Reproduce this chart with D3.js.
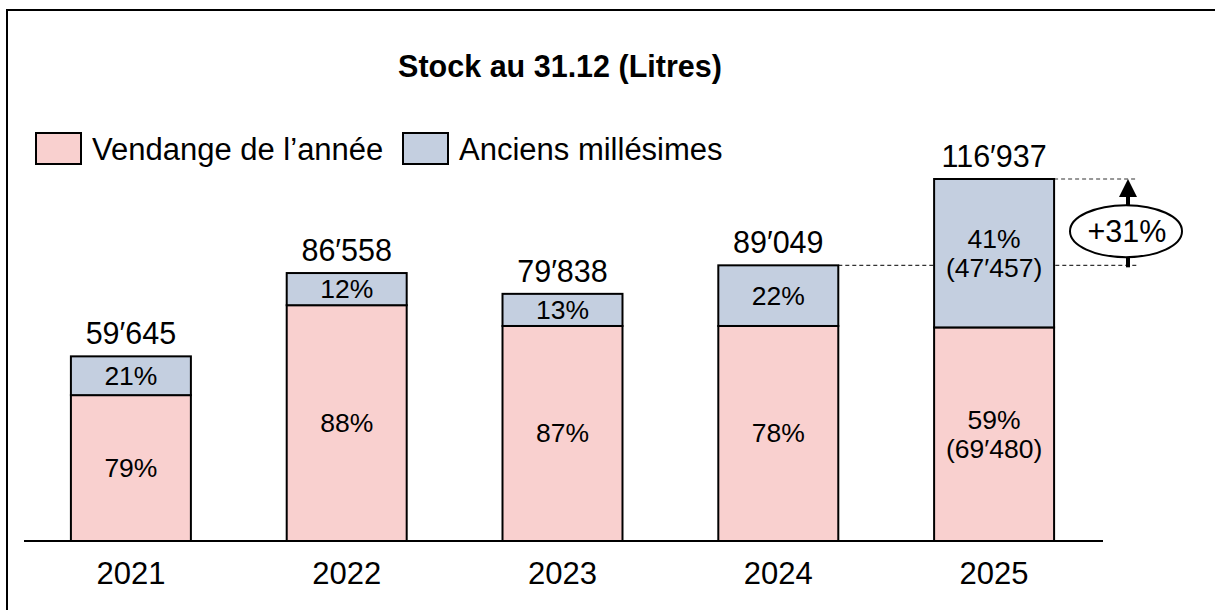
<!DOCTYPE html>
<html>
<head>
<meta charset="utf-8">
<script src="https://cdn.jsdelivr.net/npm/d3@7"></script>
<style>
  body { margin: 0; background: #fff; }
  svg { display: block; font-family: "Liberation Sans", Arial, sans-serif; }
</style>
</head>
<body>
<div id="chart"></div>
<script>
var years = ["2021", "2022", "2023", "2024", "2025"];
var totals = [59645, 86558, 79838, 89049, 116937];
var pctNew = [79, 88, 87, 78, 59];   // Vendange de l'année
var pctOld = [21, 12, 13, 22, 41];   // Anciens millésimes
var detailNew = [null, null, null, null, 69480];
var detailOld = [null, null, null, null, 47457];
var growthLabel = "+31%";

var w = 1215;
var h = 610;
var pink = "#f9d0cf";
var blue = "#c4cfe0";

// Swiss style thousands separator
function fmt(v) {
  return d3.format(",")(v).replace(/,/g, "\u2032");
}

var svg = d3.select("#chart")
            .append("svg")
            .attr("width", w)
            .attr("height", h);

// frame
svg.append("rect")
   .attr("x", 7).attr("y", 10)
   .attr("width", 1400).attr("height", 800)
   .attr("fill", "none")
   .attr("stroke", "#000")
   .attr("stroke-width", 2);

svg.append("text")
   .attr("x", 560).attr("y", 66)
   .attr("text-anchor", "middle")
   .attr("dominant-baseline", "central")
   .attr("font-size", 30.5)
   .attr("font-weight", "bold")
   .text("Stock au 31.12 (Litres)");

// legend
var legend = [
  {label: "Vendange de l\u2019ann\u00e9e", color: pink, x: 36},
  {label: "Anciens mill\u00e9simes", color: blue, x: 403}
];
var lg = svg.selectAll("g.legend")
    .data(legend)
    .enter()
    .append("g")
    .attr("class", "legend");
lg.append("rect")
  .attr("x", function(d) { return d.x; })
  .attr("y", 133)
  .attr("width", 45)
  .attr("height", 31)
  .attr("fill", function(d) { return d.color; })
  .attr("stroke", "#000")
  .attr("stroke-width", 2);
lg.append("text")
  .attr("x", function(d) { return d.x + 56; })
  .attr("y", 160)
  .attr("font-size", 31)
  .text(function(d) { return d.label; });

var x = d3.scaleBand()
          .domain(years)
          .range([23, 1102])
          .paddingInner(0.444)
          .paddingOuter(0.222);

var y = d3.scaleLinear()
          .domain([0, d3.max(totals)])
          .range([541, 179]);

var data = years.map(function(yr, i) {
  var nv = totals[i] * pctNew[i] / 100;
  return {year: yr, total: totals[i], newVal: nv,
          pNew: pctNew[i], pOld: pctOld[i],
          dNew: detailNew[i], dOld: detailOld[i]};
});

// growth annotation guides (behind the bars)
var prev = data[data.length - 2];
var last = data[data.length - 1];
[prev, last].forEach(function(d) {
  svg.append("line")
     .attr("x1", x(d.year) + x.bandwidth()).attr("x2", 1137)
     .attr("y1", y(d.total)).attr("y2", y(d.total))
     .attr("stroke", "#333").attr("stroke-width", 1.2)
     .attr("stroke-dasharray", "4,3");
});

var bars = svg.selectAll("g.bar")
    .data(data)
    .enter()
    .append("g")
    .attr("class", "bar");

// lower segment
bars.append("rect")
    .attr("x", function(d) { return x(d.year); })
    .attr("y", function(d) { return y(d.newVal); })
    .attr("width", x.bandwidth())
    .attr("height", function(d) { return y(0) - y(d.newVal); })
    .attr("fill", pink)
    .attr("stroke", "#000")
    .attr("stroke-width", 2);

// upper segment
bars.append("rect")
    .attr("x", function(d) { return x(d.year); })
    .attr("y", function(d) { return y(d.total); })
    .attr("width", x.bandwidth())
    .attr("height", function(d) { return y(d.newVal) - y(d.total); })
    .attr("fill", blue)
    .attr("stroke", "#000")
    .attr("stroke-width", 2);

function segLabel(sel, top, bottom, pct, detail) {
  sel.each(function(d) {
    var g = d3.select(this);
    var cx = x(d.year) + x.bandwidth() / 2;
    var cy = (y(top(d)) + y(bottom(d))) / 2;
    var lines = [pct(d) + "%"];
    if (detail(d) != null) lines.push("(" + fmt(detail(d)) + ")");
    lines.forEach(function(t, k) {
      g.append("text")
       .attr("x", cx)
       .attr("y", cy + (k - (lines.length - 1) / 2) * 29)
       .attr("text-anchor", "middle")
       .attr("dominant-baseline", "central")
       .attr("font-size", 26.5)
       .text(t);
    });
  });
}
segLabel(bars, function(d) { return d.newVal; }, function() { return 0; },
         function(d) { return d.pNew; }, function(d) { return d.dNew; });
segLabel(bars, function(d) { return d.total; }, function(d) { return d.newVal; },
         function(d) { return d.pOld; }, function(d) { return d.dOld; });

// totals
bars.append("text")
    .attr("x", function(d) { return x(d.year) + x.bandwidth() / 2; })
    .attr("y", function(d) { return y(d.total) - 12; })
    .attr("text-anchor", "middle")
    .attr("font-size", 30.5)
    .text(function(d) { return fmt(d.total); });

// baseline + year labels
svg.append("line")
   .attr("x1", 24).attr("x2", 1103)
   .attr("y1", y(0)).attr("y2", y(0))
   .attr("stroke", "#000")
   .attr("stroke-width", 2);

svg.selectAll("text.year")
   .data(years)
   .enter()
   .append("text")
   .attr("class", "year")
   .attr("x", function(d) { return x(d) + x.bandwidth() / 2; })
   .attr("y", 573)
   .attr("text-anchor", "middle")
   .attr("dominant-baseline", "central")
   .attr("font-size", 31)
   .text(function(d) { return d; });

// growth arrow + label
var ax = 1128;
svg.append("line")
   .attr("x1", ax).attr("x2", ax)
   .attr("y1", y(prev.total) + 2).attr("y2", y(last.total) + 16)
   .attr("stroke", "#000").attr("stroke-width", 4);
svg.append("path")
   .attr("d", "M" + ax + "," + y(last.total) +
              "L" + (ax - 9) + "," + (y(last.total) + 18) +
              "L" + (ax + 9) + "," + (y(last.total) + 18) + "Z")
   .attr("fill", "#000");
var ecy = (y(prev.total) + y(last.total)) / 2 + 9;
svg.append("ellipse")
   .attr("cx", 1126).attr("cy", ecy)
   .attr("rx", 56).attr("ry", 26)
   .attr("fill", "#fff")
   .attr("stroke", "#000")
   .attr("stroke-width", 2);
svg.append("text")
   .attr("x", 1127).attr("y", ecy)
   .attr("text-anchor", "middle")
   .attr("dominant-baseline", "central")
   .attr("font-size", 30.5)
   .text(growthLabel);
</script>
</body>
</html>
